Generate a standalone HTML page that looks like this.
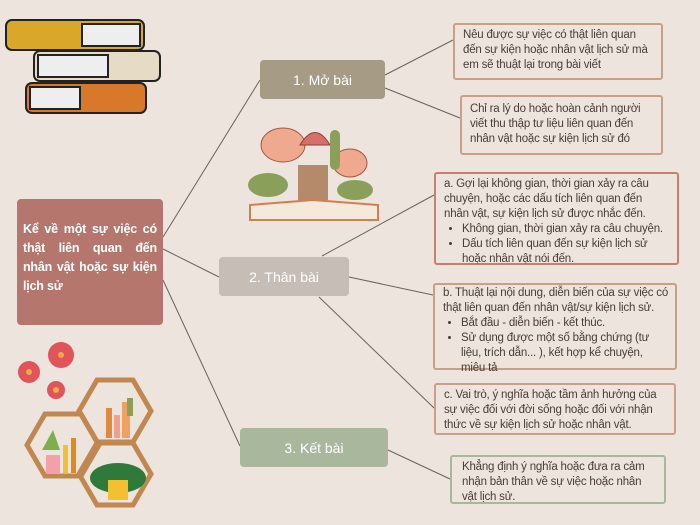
<!DOCTYPE html>
<html><head><meta charset="utf-8"><style>
body{margin:0;width:700px;height:525px;background:#ede4de;position:relative;overflow:hidden;font-family:"Liberation Sans",sans-serif}
.n{position:absolute;border-radius:4px;color:#fff;font-size:14px;display:flex;align-items:center;justify-content:center}
.b{position:absolute;border:2px solid #c8a08a;border-radius:3px;font-size:11.5px;letter-spacing:-0.2px;line-height:15px;color:#4a3c36;padding:3px 8px;box-sizing:border-box;white-space:nowrap}
.b ul{margin:0;padding-left:18px}
svg{position:absolute;left:0;top:0}
</style></head><body>
<svg width="700" height="525">
<g stroke="#6a625c" stroke-width="1" fill="none">
<line x1="163" y1="237" x2="260" y2="80"/><line x1="163" y1="249" x2="219" y2="277"/><line x1="163" y1="280" x2="240" y2="446"/>
<line x1="385" y1="75" x2="453" y2="40"/><line x1="385" y1="88" x2="460" y2="118"/>
<line x1="322" y1="256" x2="434" y2="195"/><line x1="349" y1="277" x2="433" y2="295"/><line x1="319" y1="297" x2="434" y2="408"/>
<line x1="388" y1="450" x2="450" y2="479"/>
</g>
<g stroke="#222" stroke-width="2">
<rect x="6" y="20" width="138" height="30" rx="6" fill="#d9a82a"/><rect x="82" y="24" width="58" height="22" fill="#eee"/>
<rect x="34" y="51" width="126" height="30" rx="6" fill="#e6dcc6"/><rect x="38" y="55" width="70" height="22" fill="#eee"/>
<rect x="26" y="83" width="120" height="30" rx="6" fill="#d8782a"/><rect x="30" y="87" width="50" height="22" fill="#eee"/>
</g>
<path d="M250 205 L313 200 L378 205 L378 220 L250 220Z" fill="#f4e9da" stroke="#d07f4e" stroke-width="2"/>
<ellipse cx="283" cy="145" rx="22" ry="17" fill="#eea98f" stroke="#a0563f"/>
<ellipse cx="350" cy="163" rx="17" ry="14" fill="#eea98f" stroke="#a0563f"/>
<path d="M300 145 Q315 120 330 145Z" fill="#d8706a" stroke="#8a3f35"/>
<rect x="298" y="165" width="30" height="35" fill="#b58a6a"/>
<ellipse cx="268" cy="185" rx="20" ry="12" fill="#8aa05a"/><ellipse cx="355" cy="190" rx="18" ry="10" fill="#8aa05a"/>
<rect x="330" y="130" width="10" height="40" rx="5" fill="#8aa05a"/>
<g fill="#e0545a"><circle cx="61" cy="355" r="13"/><circle cx="29" cy="372" r="11"/><circle cx="56" cy="390" r="9"/></g>
<g fill="#f2a94a"><circle cx="61" cy="355" r="3"/><circle cx="29" cy="372" r="3"/><circle cx="56" cy="390" r="3"/></g>
<g fill="none" stroke="#c08850" stroke-width="5">
<polygon points="97,380 133,380 151,411 133,442 97,442 79,411"/>
<polygon points="45,414 81,414 99,445 81,476 45,476 27,445"/>
<polygon points="97,443 133,443 151,474 133,505 97,505 79,474"/>
</g>
<rect x="106" y="408" width="6" height="30" fill="#e08a3a"/><rect x="114" y="415" width="6" height="23" fill="#f0a090"/><rect x="122" y="402" width="8" height="36" fill="#f0a060"/>
<rect x="127" y="398" width="6" height="18" fill="#8aa05a"/>
<rect x="46" y="455" width="14" height="18" fill="#f4a0a8"/><rect x="63" y="445" width="5" height="28" fill="#f2c030"/><rect x="71" y="438" width="5" height="35" fill="#e08a1a"/>
<path d="M42 450 L53 430 L60 450Z" fill="#7fae4a"/>
<ellipse cx="118" cy="478" rx="28" ry="15" fill="#2f7a3a"/><rect x="108" y="480" width="20" height="20" fill="#f2c030"/>
</svg>
<div class="n" style="left:17px;top:199px;width:146px;height:126px;background:#b5766e;border-radius:4px;display:block;padding:21px 6px 0 6px;box-sizing:border-box;font-weight:bold;font-size:12.5px;letter-spacing:-0.2px;line-height:19px;text-align:justify">Kể về một sự việc có thật liên quan đến nhân vật hoặc sự kiện lịch sử</div>
<div class="n" style="left:260px;top:60px;width:125px;height:39px;background:#a69b84">1. Mở bài</div>
<div class="n" style="left:219px;top:257px;width:130px;height:39px;background:#c6bdb6">2. Thân bài</div>
<div class="n" style="left:240px;top:428px;width:148px;height:39px;background:#a9b79c">3. Kết bài</div>
<div class="b" style="left:453px;top:23px;width:210px;height:57px">Nêu được sự việc có thật liên quan<br>đến sự kiện hoặc nhân vật lịch sử mà<br>em sẽ thuật lại trong bài viết</div>
<div class="b" style="left:460px;top:95px;width:203px;height:60px;padding-top:5px">Chỉ ra lý do hoặc hoàn cảnh người<br>viết thu thập tư liệu liên quan đến<br>nhân vật hoặc sự kiện lịch sử đó</div>
<div class="b" style="left:434px;top:172px;width:245px;height:93px;border-color:#c97f70">a. Gợi lại không gian, thời gian xảy ra câu<br>chuyện, hoặc các dấu tích liên quan đến<br>nhân vật, sự kiện lịch sử được nhắc đến.<ul><li>Không gian, thời gian xảy ra câu chuyện.</li><li>Dấu tích liên quan đến sự kiện lịch sử<br>hoặc nhân vật nói đến.</li></ul></div>
<div class="b" style="left:433px;top:283px;width:244px;height:87px;padding-top:1px;padding-right:4px">b. Thuật lại nội dung, diễn biến của sự việc có<br>thật liên quan đến nhân vật/sự kiện lịch sử.<ul><li>Bắt đầu - diễn biến - kết thúc.</li><li>Sử dụng được một số bằng chứng (tư<br>liệu, trích dẫn... ), kết hợp kể chuyện,<br>miêu tả</li></ul></div>
<div class="b" style="left:434px;top:383px;width:242px;height:52px">c. Vai trò, ý nghĩa hoặc tầm ảnh hưởng của<br>sự việc đối với đời sống hoặc đối với nhận<br>thức về sự kiện lịch sử hoặc nhân vật.</div>
<div class="b" style="left:450px;top:455px;width:216px;height:49px;border-color:#a9b79c;padding-left:10px">Khẳng định ý nghĩa hoặc đưa ra cảm<br>nhận bản thân về sự việc hoặc nhân<br>vật lịch sử.</div>
</body></html>
